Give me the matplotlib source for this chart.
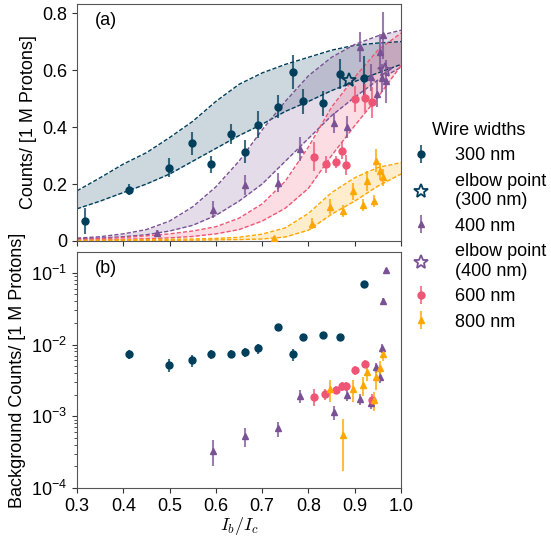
import matplotlib.pyplot as plt
from matplotlib.colors import to_rgba
from matplotlib.ticker import FixedLocator, FixedFormatter

plt.rcParams['font.family'] = ['Liberation Sans', 'DejaVu Sans']
plt.rcParams['font.size'] = 13
plt.rcParams['mathtext.fontset'] = 'custom'
plt.rcParams['mathtext.rm'] = 'Liberation Sans'
plt.rcParams['mathtext.it'] = 'Liberation Sans:italic'
plt.rcParams['mathtext.bf'] = 'Liberation Sans:bold'

# ---- panel (a): counts per 1 M protons ----
x300 = [0.317, 0.413, 0.499, 0.548, 0.589, 0.632, 0.663, 0.692, 0.735, 0.767, 0.789, 0.831, 0.868, 0.920]
y300 = [0.07, 0.18, 0.258, 0.343, 0.27, 0.376, 0.314, 0.408, 0.472, 0.592, 0.49, 0.483, 0.585, 0.573]
e300 = [0.046, 0.02, 0.035, 0.04, 0.03, 0.035, 0.04, 0.048, 0.04, 0.06, 0.045, 0.044, 0.053, 0.076]

x400 = [0.473, 0.593, 0.663, 0.735, 0.782, 0.855, 0.884, 0.911, 0.936, 0.949, 0.954, 0.958, 0.960, 0.967]
y400 = [0.027, 0.11, 0.197, 0.205, 0.323, 0.413, 0.401, 0.681, 0.575, 0.517, 0.663, 0.573, 0.722, 0.56]
e400 = [0.012, 0.03, 0.035, 0.033, 0.042, 0.035, 0.038, 0.053, 0.047, 0.047, 0.065, 0.05, 0.082, 0.075]

x600 = [0.813, 0.837, 0.859, 0.872, 0.882, 0.901, 0.922, 0.938]
y600 = [0.296, 0.27, 0.278, 0.317, 0.267, 0.499, 0.502, 0.487]
e600 = [0.05, 0.03, 0.02, 0.03, 0.035, 0.045, 0.05, 0.055]

x800 = [0.726, 0.807, 0.846, 0.875, 0.897, 0.918, 0.927, 0.941, 0.946, 0.954, 0.960]
y800 = [0.01, 0.061, 0.121, 0.106, 0.174, 0.127, 0.211, 0.141, 0.282, 0.244, 0.223]
e800 = [0.008, 0.02, 0.028, 0.022, 0.03, 0.022, 0.035, 0.02, 0.04, 0.03, 0.03]

# elbow points
elbow300 = (0.888, 0.566)
elbow400 = (0.965, 0.602)

# fit bands (lower / upper edges)
band_x = [0.30, 0.35, 0.40, 0.45, 0.50, 0.55, 0.60, 0.65, 0.70, 0.75, 0.80, 0.85, 0.90, 0.95, 1.00]
lo300 = [0.113, 0.14, 0.17, 0.2, 0.235, 0.28, 0.325, 0.37, 0.41, 0.455, 0.49, 0.528, 0.56, 0.59, 0.62]
hi300 = [0.176, 0.222, 0.27, 0.31, 0.363, 0.42, 0.49, 0.55, 0.59, 0.62, 0.645, 0.67, 0.687, 0.695, 0.70]
lo400 = [0.008, 0.01, 0.015, 0.022, 0.035, 0.055, 0.09, 0.14, 0.2, 0.28, 0.36, 0.44, 0.505, 0.565, 0.61]
hi400 = [0.01, 0.015, 0.025, 0.04, 0.07, 0.12, 0.19, 0.28, 0.39, 0.49, 0.58, 0.645, 0.69, 0.72, 0.74]
lo600 = [0.003, 0.004, 0.006, 0.008, 0.011, 0.016, 0.025, 0.04, 0.07, 0.115, 0.185, 0.3, 0.405, 0.505, 0.616]
hi600 = [0.005, 0.008, 0.012, 0.018, 0.025, 0.035, 0.05, 0.08, 0.13, 0.21, 0.33, 0.47, 0.575, 0.67, 0.73]
lo800 = [0.001, 0.001, 0.0015, 0.002, 0.0025, 0.003, 0.004, 0.005, 0.007, 0.014, 0.038, 0.094, 0.14, 0.193, 0.235]
hi800 = [0.002, 0.003, 0.004, 0.005, 0.006, 0.007, 0.009, 0.013, 0.024, 0.046, 0.097, 0.17, 0.222, 0.258, 0.275]

# ---- panel (b): background counts ----
bx300 = [0.413, 0.499, 0.548, 0.589, 0.632, 0.663, 0.692, 0.735, 0.767, 0.789, 0.831, 0.868, 0.920]
by300 = [7.4e-3, 5.2e-3, 6.0e-3, 7.4e-3, 7.4e-3, 7.8e-3, 8.8e-3, 1.73e-2, 7.3e-3, 1.27e-2, 1.34e-2, 1.29e-2, 6.95e-2]
be300 = [1.1e-3, 1.1e-3, 1.1e-3, 1.1e-3, 1.0e-3, 1.2e-3, 1.4e-3, 1.6e-3, 1.4e-3, 1.4e-3, 1.3e-3, 1.3e-3, 4e-3]

bx400 = [0.593, 0.663, 0.735, 0.782, 0.855, 0.884, 0.911, 0.936, 0.947, 0.954, 0.958, 0.960, 0.967]
by400 = [3.3e-4, 5.3e-4, 6.8e-4, 1.93e-3, 1.13e-3, 2.0e-3, 1.75e-3, 1.55e-3, 4.8e-3, 3.5e-3, 8.9e-3, 4.1e-2, 0.11]
be400 = [1.3e-4, 1.6e-4, 1.6e-4, 4e-4, 2.5e-4, 3.5e-4, 3e-4, 3e-4, 8e-4, 6e-4, 1.4e-3, 4e-3, 8e-3]

bx600 = [0.813, 0.836, 0.859, 0.873, 0.882, 0.901, 0.922, 0.938]
by600 = [1.88e-3, 2.05e-3, 2.33e-3, 2.65e-3, 2.65e-3, 4.4e-3, 5.4e-3, 1.7e-3]
be600 = [5e-4, 3.5e-4, 3e-4, 4e-4, 4e-4, 6e-4, 7e-4, 3.5e-4]

bx800 = [0.846, 0.875, 0.897, 0.918, 0.927, 0.941, 0.946, 0.954, 0.960]
by800 = [2.4e-3, 5.5e-4, 2.4e-3, 2.7e-3, 4.1e-3, 1.7e-3, 3.5e-3, 4.7e-3, 7.3e-3]
be800 = [8e-4, 3.8e-4, 8e-4, 8e-4, 1.0e-3, 5e-4, 1.2e-3, 1.2e-3, 1.5e-3]

c300, c400, c600, c800 = '#003f5c', '#7a5195', '#ef5675', '#ffa600'

fig = plt.figure(figsize=(5.51, 5.36), dpi=100)
ax1 = fig.add_axes([0.1397, 0.5504, 0.5881, 0.4421])
ax2 = fig.add_axes([0.1397, 0.0896, 0.5881, 0.4403], sharex=ax1)


def eb(ax, x, y, e, c, m, label=None):
    return ax.errorbar(x, y, yerr=e, fmt=m, color=c, ms=5, mec=c,
                       ecolor=to_rgba(c, 0.75), elinewidth=1.5, capsize=0,
                       zorder=3, label=label)


for lo, hi, c in [(lo300, hi300, c300), (lo400, hi400, c400),
                  (lo600, hi600, c600), (lo800, hi800, c800)]:
    ax1.fill_between(band_x, lo, hi, color=c, alpha=0.2, lw=0, zorder=1)
    ax1.plot(band_x, lo, '--', color=c, lw=1, dashes=(3, 1.5), zorder=2)
    ax1.plot(band_x, hi, '--', color=c, lw=1, dashes=(3, 1.5), zorder=2)

h300 = eb(ax1, x300, y300, e300, c300, 'o', '300 nm')
h400 = eb(ax1, x400, y400, e400, c400, '^', '400 nm')
h600 = eb(ax1, x600, y600, e600, c600, 'o', '600 nm')
h800 = eb(ax1, x800, y800, e800, c800, '^', '800 nm')
s300, = ax1.plot(*elbow300, '*', ms=10, mfc='none', mec=c300, mew=1.3, zorder=4,
                 label='elbow point\n(300 nm)')
s400, = ax1.plot(*elbow400, '*', ms=10, mfc='none', mec=c400, mew=1.3, zorder=4,
                 label='elbow point\n(400 nm)')

eb(ax2, bx300, by300, be300, c300, 'o')
eb(ax2, bx400, by400, be400, c400, '^')
eb(ax2, bx600, by600, be600, c600, 'o')
eb(ax2, bx800, by800, be800, c800, '^')

ax1.set_xlim(0.3, 1.0)
ax1.set_ylim(0, 0.832)
ax1.yaxis.set_major_locator(FixedLocator([0, 0.2, 0.4, 0.6, 0.8]))
ax1.yaxis.set_major_formatter(FixedFormatter(['0', '0.2', '0.4', '0.6', '0.8']))
ax1.tick_params(labelbottom=False)
ax1.set_ylabel('Counts/ [1 M Protons]')
ax1.text(0.055, 0.965, '(a)', transform=ax1.transAxes, va='top', ha='left')

ax2.set_yscale('log')
ax2.set_ylim(1e-4, 0.195)
ax2.set_xticks([0.3, 0.4, 0.5, 0.6, 0.7, 0.8, 0.9, 1.0])
ax2.set_ylabel('Background Counts/ [1 M Protons]')
ax2.set_xlabel(r'$I_b/I_c$', math_fontfamily='cm', labelpad=0)
ax2.text(0.055, 0.965, '(b)', transform=ax2.transAxes, va='top', ha='left')

for ax in (ax1, ax2):
    for sp in ax.spines.values():
        sp.set_color('#555555')
    ax.tick_params(which='both', direction='out', color='#333333')

fig.legend(handles=[h300, s300, h400, s400, h600, h800], title='Wire widths',
           loc='center left', bbox_to_anchor=(0.742, 0.578), frameon=False,
           borderaxespad=0, borderpad=0.2,
           handlelength=1.0, handletextpad=1.33, fontsize=13, title_fontsize=13,
           labelspacing=0.47)

fig.savefig('out.png', dpi=100)
